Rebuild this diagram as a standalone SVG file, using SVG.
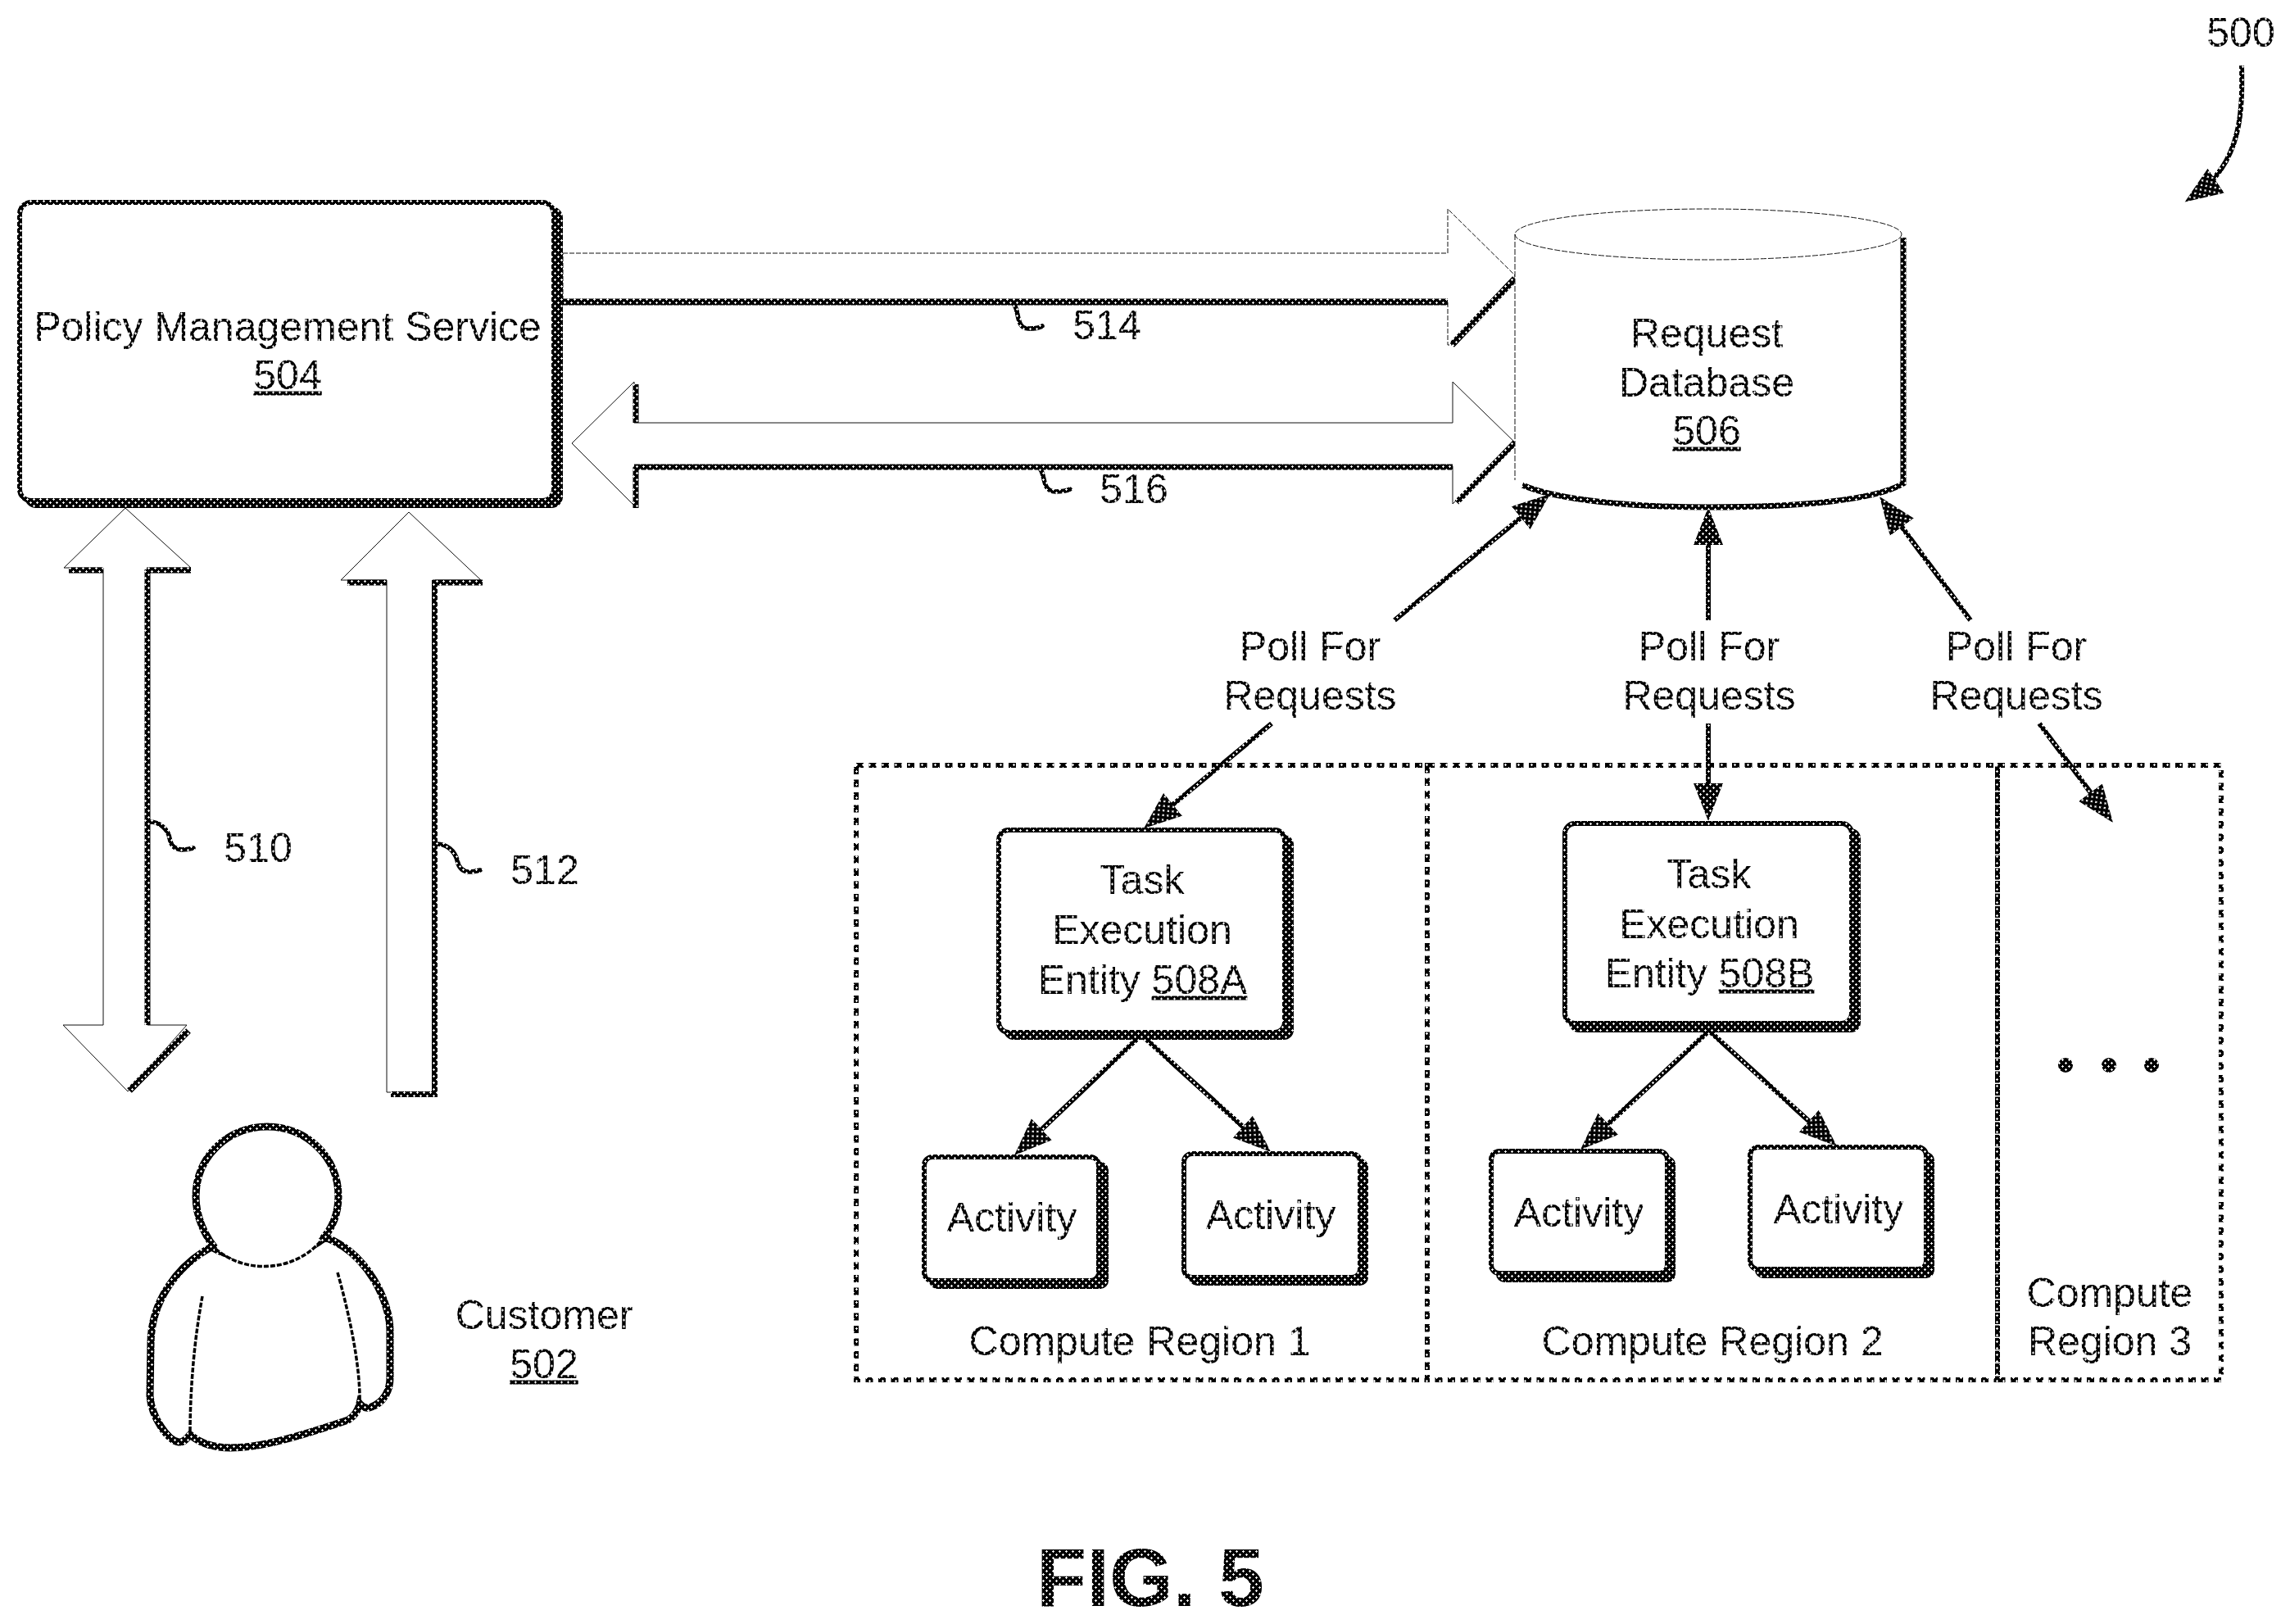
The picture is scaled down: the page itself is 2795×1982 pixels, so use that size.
<svg xmlns="http://www.w3.org/2000/svg" width="2795" height="1982" viewBox="0 0 2795 1982">
<style>
text{font-family:"Liberation Sans",Arial,sans-serif;font-size:50px;fill:url(#ht);text-anchor:middle;transform:translateY(1.5px)}
.u{text-decoration:underline}
.fig{font-weight:bold;font-size:100px;transform:none}
.sh{fill:url(#ht);stroke:none}
.bx{fill:#fff;stroke:url(#ht);stroke-width:6}
.frame{fill:none;stroke:url(#ht);stroke-width:6;stroke-dasharray:9 6.5}
.thin{fill:#fff;stroke:#111;stroke-width:1}
.dash{fill:none;stroke:#111;stroke-width:1;stroke-dasharray:7 2}
.t6{fill:none;stroke:url(#ht);stroke-width:8}
.t5{fill:none;stroke:url(#ht);stroke-width:7}
.ln{fill:none;stroke:url(#ht);stroke-width:6}
.head{marker-end:url(#ah)}
.lead{fill:none;stroke:url(#ht);stroke-width:5.500;stroke-linecap:round}
.pers{fill:#fff;stroke:url(#ht);stroke-width:9}
.fine{fill:none;stroke:#000;stroke-width:3.500;stroke-dasharray:6 2}
</style>
<defs>
<pattern id="ht" width="8" height="8" patternUnits="userSpaceOnUse">
<rect width="8" height="8" fill="#000"/>
<path d="M1 0h1v1h1v1h-1v1h-1v-1h-1v-1h1zM5 4h1v1h1v1h-1v1h-1v-1h-1v-1h1z" fill="#fff"/>
</pattern>
<marker id="ah" markerUnits="userSpaceOnUse" markerWidth="52" markerHeight="44" refX="31" refY="20" orient="auto">
<path d="M0 2L46 20L0 38z" fill="url(#ht)"/>
</marker>
</defs>

<g id="compute-region-1">
<rect class="frame" x="1045" y="934" width="697" height="750"/>
<text x="1391" y="1652">Compute Region 1</text>
</g>
<g id="compute-region-2">
<rect class="frame" x="1742" y="934" width="696" height="750"/>
<text x="2090" y="1652">Compute Region 2</text>
</g>
<g id="compute-region-3">
<rect class="frame" x="2438" y="934" width="273" height="750"/>
<text x="2575" y="1593">Compute</text>
<text x="2575" y="1652">Region 3</text>
<circle class="sh" cx="2521" cy="1300" r="9"/>
<circle class="sh" cx="2574" cy="1300" r="9"/>
<circle class="sh" cx="2626" cy="1300" r="9"/>
</g>

<g id="connectors">
<g id="arrow-514">
<path class="thin" d="M687 309H1767V255L1849 336V340L1772 421H1767V367H687z" stroke-dasharray="6 2"/>
<path class="t6" d="M687 368.500H1767M1772 421L1849 340"/>
<path class="lead" d="M1238 372C1244 380 1240 402 1256 401C1262 401 1268 401 1272 398"/>
<text x="1351" y="412">514</text>
</g>
<g id="arrow-516">
<path class="thin" d="M698 541L774 466V516H1773V466L1849 540L1773 615V569H774V617z"/>
<path class="t5" d="M776 469V516M774 570H1773M776 570V620M1778 613L1849 540"/>
<path class="lead" d="M1270 573C1276 581 1272 600 1288 600C1294 600 1300 600 1306 597"/>
<text x="1384" y="612">516</text>
</g>
<g id="arrow-510">
<path class="thin" d="M153 620L233 693H180V1251H228L156 1332L77 1251H126V693H78z"/>
<path class="t5" d="M84 696H126M179 696H233M180 695V1251"/>
<path class="t6" d="M230 1258L158 1331"/>
<path class="lead" d="M183 1003C195 1003 205 1012 207 1023C209 1033 213 1036 222 1037C228 1037 232 1036 236 1035"/>
<text x="315" y="1050">510</text>
</g>
<g id="arrow-512">
<path class="thin" d="M499 625L587 708H531V1333H472V708H416z"/>
<path class="t5" d="M424 711H472M528 711H589M530.500 708V1338M477 1335.500H534"/>
<path class="lead" d="M533 1030C545 1030 555 1038 558 1050C560 1060 565 1064 573 1064C578 1064 582 1063 586 1062"/>
<text x="665" y="1077">512</text>
</g>
<g id="polls">
<path class="ln head" d="M1702 757L1880.300 612.400"/>
<path class="ln head" d="M1552 883L1407.600 1001.500"/>
<path class="ln head" d="M2085 757V634"/>
<path class="ln head" d="M2085 883V987"/>
<path class="ln head" d="M2405 757L2302.900 618.100"/>
<path class="ln head" d="M2489 883L2570 992"/>
<text x="1599" y="804">Poll For</text>
<text x="1599" y="864">Requests</text>
<text x="2086" y="804">Poll For</text>
<text x="2086" y="864">Requests</text>
<text x="2461" y="804">Poll For</text>
<text x="2461" y="864">Requests</text>
</g>
<g id="tree-arrows">
<path class="ln head" d="M1393 1263L1248.900 1399.700"/>
<path class="ln head" d="M1393 1263L1539.900 1395.900"/>
<path class="ln head" d="M2086 1258L1940 1392.800"/>
<path class="ln head" d="M2086 1258L2230.800 1389"/>
</g>
<g id="ref-500">
<path class="ln head" d="M2736 80C2737 130 2738 198 2679 238"/>
<text x="2735" y="55">500</text>
</g>
</g>

<g id="policy-management-service">
<rect class="sh" x="30" y="252" width="657" height="368" rx="14"/>
<rect class="bx" x="24" y="247" width="652" height="364" rx="14"/>
<text x="351" y="414">Policy Management Service</text>
<text x="351" y="473"><tspan class="u">504</tspan></text>
</g>

<g id="request-database">
<path d="M1849 286V586C1870 605 1960 619 2085 619C2210 619 2300 605 2321 586V286z" fill="#fff"/>
<path class="dash" d="M1849 286V586"/>
<path class="t5" d="M2323 290V590C2290 610 2200 619 2085 619C1990 619 1900 610 1858 592"/>
<ellipse class="dash" cx="2085" cy="286" rx="236" ry="31"/>
<text x="2083" y="422">Request</text>
<text x="2083" y="482">Database</text>
<text x="2083" y="541"><tspan class="u">506</tspan></text>
</g>

<g id="task-execution-entity-508a">
<rect class="sh" x="1225" y="1019" width="354" height="250" rx="12"/>
<rect class="bx" x="1219" y="1013" width="349" height="247" rx="12"/>
<text x="1394" y="1089">Task</text>
<text x="1394" y="1150">Execution</text>
<text x="1394.500" y="1211">Entity <tspan class="u">508A</tspan></text>
</g>
<g id="activity-a1">
<rect class="sh" x="1134" y="1418" width="219" height="155" rx="10"/>
<rect class="bx" x="1128" y="1412" width="213" height="151" rx="10"/>
<text x="1235" y="1501">Activity</text>
</g>
<g id="activity-a2">
<rect class="sh" x="1451" y="1414" width="219" height="155" rx="10"/>
<rect class="bx" x="1445" y="1408" width="215" height="151" rx="10"/>
<text x="1551" y="1498">Activity</text>
</g>

<g id="task-execution-entity-508b">
<rect class="sh" x="1915" y="1011" width="356" height="249" rx="12"/>
<rect class="bx" x="1910" y="1005" width="350" height="244" rx="12"/>
<text x="2086" y="1082">Task</text>
<text x="2086" y="1143">Execution</text>
<text x="2086.500" y="1203">Entity <tspan class="u">508B</tspan></text>
</g>
<g id="activity-b1">
<rect class="sh" x="1826" y="1411" width="219" height="154" rx="10"/>
<rect class="bx" x="1820" y="1405" width="215" height="149" rx="10"/>
<text x="1927" y="1495">Activity</text>
</g>
<g id="activity-b2">
<rect class="sh" x="2142" y="1406" width="219" height="154" rx="10"/>
<rect class="bx" x="2136" y="1400" width="215" height="149" rx="10"/>
<text x="2244" y="1491">Activity</text>
</g>

<g id="customer">
<path class="pers" d="M258 1522C215 1545 184 1590 184 1640L183 1704C185 1730 205 1758 218 1760C225 1761 228 1755 232 1751C245 1762 260 1767 281 1767C310 1767 345 1760 425 1733C433 1728 437 1722 439 1713C443 1718 447 1719 451 1718C470 1712 476 1695 476 1682V1624C476 1590 450 1530 397 1510C360 1540 300 1545 258 1522z"/>
<path class="fine" d="M247 1582C238 1630 232 1690 232 1751"/>
<path class="fine" d="M412 1553C428 1610 440 1670 439 1713"/>
<path d="M326 1375C278 1375 239 1412 239 1460C239 1485 250 1508 263 1524C300 1552 360 1552 392 1514C405 1500 413 1482 413 1460C413 1412 374 1375 326 1375z" fill="#fff"/>
<path class="pers" fill="none" style="fill:none" d="M263 1524C250 1508 239 1485 239 1460C239 1412 278 1375 326 1375C374 1375 413 1412 413 1460C413 1482 405 1500 392 1514"/>
<path class="fine" d="M263 1524C300 1556 360 1552 392 1514"/>
<text x="664" y="1620">Customer</text>
<text x="664" y="1680"><tspan class="u">502</tspan></text>
</g>

<g id="figure-label">
<text class="fig" x="1404" y="1960">FIG. 5</text>
</g>
</svg>
